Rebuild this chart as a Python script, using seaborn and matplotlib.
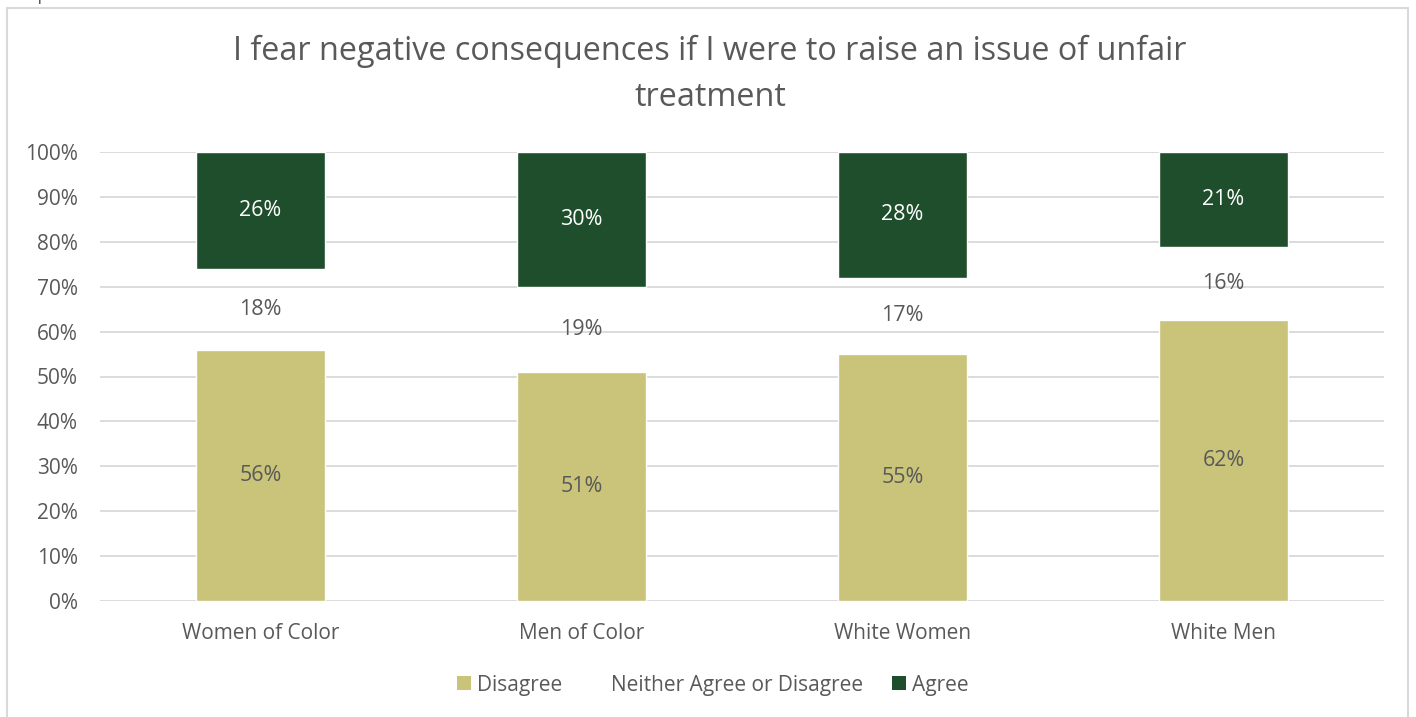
import matplotlib
matplotlib.use("Agg")
import matplotlib.pyplot as plt
import matplotlib.patches as mpatches
import numpy as np
import pandas as pd
import seaborn as sns

categories = ["Women of Color", "Men of Color", "White Women", "White Men"]
disagree = [56, 51, 55, 62]
neither = [18, 19, 17, 16]
agree = [26, 30, 28, 21]
yticks = [0, 10, 20, 30, 40, 50, 60, 70, 80, 90, 100]
title_lines = ["I fear negative consequences if I were to raise an issue of unfair",
               "treatment"]

C_DIS = "#c9c47a"
C_AGR = "#1f4e2c"
C_TXT = "#595959"
C_GRID = "#d9d9d9"

sns.set_theme(style="white")
plt.rcParams["font.family"] = ["Open Sans", "DejaVu Sans"]

# 100% stacked shares
raw = np.array([disagree, neither, agree], dtype=float)
share = raw / raw.sum(axis=0) * 100
bottoms = np.vstack([np.zeros(4), np.cumsum(share, axis=0)[:-1]])

df = pd.DataFrame({"category": categories})

fig = plt.figure(figsize=(14.16, 7.17), dpi=100)
ax = fig.add_axes([100 / 1416, 116 / 717, 1284 / 1416, 449 / 717])

sns.barplot(x=df["category"], y=share[0], bottom=bottoms[0], color=C_DIS,
            width=0.4, saturation=1, ax=ax, zorder=3)
sns.barplot(x=df["category"], y=share[2], bottom=bottoms[2], color=C_AGR,
            width=0.4, saturation=1, ax=ax, zorder=3)

# segment labels
label_colors = [C_TXT, C_TXT, "white"]
for s in range(3):
    for i in range(4):
        yc = bottoms[s, i] + share[s, i] / 2
        ax.text(i, yc, f"{raw[s, i]:.0f}%", ha="center", va="center",
                fontsize=15.5, color=label_colors[s], zorder=4)

ax.set_ylim(0, 100)
ax.set_xlim(-0.5, 3.5)
ax.set_yticks(yticks)
ax.set_yticklabels([f"{t}%" for t in yticks])
ax.yaxis.grid(True, color=C_GRID, linewidth=1.3, zorder=0)
ax.set_axisbelow(True)
for sp in ax.spines.values():
    sp.set_visible(False)
ax.tick_params(axis="both", length=0, labelsize=15, colors=C_TXT)
ax.tick_params(axis="y", pad=16)
ax.tick_params(axis="x", pad=16)
ax.set_xlabel("")
ax.set_ylabel("")

# two-line title centred on the figure
fig.text(710 / 1416, 1 - 51 / 717, title_lines[0], fontsize=23.3, color=C_TXT,
         ha="center", va="center")
fig.text(710 / 1416, 1 - 98 / 717, title_lines[1], fontsize=23.3, color=C_TXT,
         ha="center", va="center")

handles = [
    mpatches.Patch(facecolor=C_DIS, edgecolor="none", label="Disagree"),
    mpatches.Patch(facecolor="none", edgecolor="none", label="Neither Agree or Disagree"),
    mpatches.Patch(facecolor=C_AGR, edgecolor="none", label="Agree"),
]
fig.legend(handles=handles, loc="center", bbox_to_anchor=(713 / 1416, 1 - 685 / 717),
           ncol=3, frameon=False, fontsize=15, labelcolor=C_TXT,
           handlelength=0.65, handleheight=0.65, handletextpad=0.3, columnspacing=1.4)

# chart border
fig.patches.append(mpatches.Rectangle((7 / 1416, -0.05), 1401 / 1416, 1.05 - 8 / 717,
                                      transform=fig.transFigure, fill=False,
                                      edgecolor=C_GRID, linewidth=1.5))
fig.text(8 / 1416, 1.0, "Graph", fontsize=13, color=C_TXT, va="baseline", ha="left")

fig.savefig("out.png", dpi=100)
